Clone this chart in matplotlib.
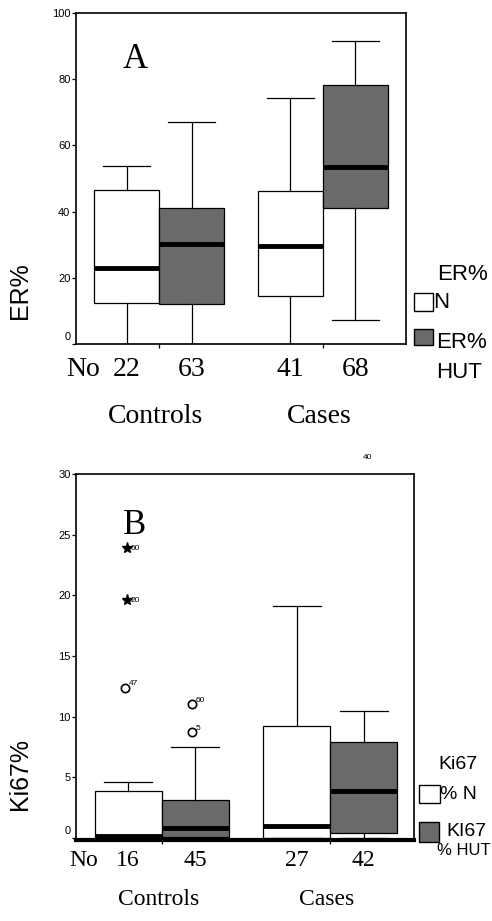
import matplotlib
matplotlib.use('Agg')
import matplotlib.pyplot as plt
from matplotlib.patches import Rectangle

# DATA
er_med = [23.0, 30.2, 29.6, 53.5]
er_q1 = [12.4, 12.1, 14.5, 41.0]
er_q3 = [46.5, 41.0, 46.2, 78.2]
er_lo = [0.0, 0.0, 0.0, 7.3]
er_hi = [53.8, 67.0, 74.3, 91.5]
er_n = ['22', '63', '41', '68']

ki_med = [0.15, 0.8, 1.0, 3.9]
ki_q1 = [0.0, 0.1, 0.0, 0.4]
ki_q3 = [3.9, 3.1, 9.2, 7.9]
ki_lo = [0.0, 0.0, 0.0, 0.0]
ki_hi = [4.6, 7.5, 19.1, 10.5]
ki_n = ['16', '45', '27', '42']

# outliers: box index, value, case label
ki_extreme_box = [0, 0]
ki_extreme_val = [23.9, 19.6]
ki_extreme_lab = ['60', '20']
ki_out_box = [0, 1, 1]
ki_out_val = [12.4, 11.0, 8.7]
ki_out_lab = ['47', '60', '5']

groups = ['Controls', 'Cases']
series_colors = ['white', '#6a6a6a']

SERIF = 'Liberation Serif'
SANS = 'Liberation Sans'
W, H = 492, 921
pos = [0.78, 1.78, 3.3, 4.3]

fig = plt.figure(figsize=(W / 100, H / 100), dpi=100)


def stats(med, q1, q3, lo, hi):
    return [dict(med=med[i], q1=q1[i], q3=q3[i], whislo=lo[i], whishi=hi[i], fliers=[])
            for i in range(len(med))]


def panel(rect, st, ns, ylim, yticks, xlim, letter, ylab, fs_num, num_dy, grp_dy, bottom_lw):
    ax = fig.add_axes(rect)
    b = ax.bxp(st, positions=pos, widths=1.0, patch_artist=True, showfliers=False,
               capwidths=0.72,
               boxprops=dict(linewidth=0.9, edgecolor='black'),
               medianprops=dict(color='black', linewidth=3.5, solid_capstyle='butt'),
               whiskerprops=dict(linewidth=0.9), capprops=dict(linewidth=0.9))
    for i, p in enumerate(b['boxes']):
        p.set_facecolor(series_colors[i % 2])
    ax.set_xlim(*xlim)
    ax.set_ylim(*ylim)
    ax.set_yticks(yticks)
    ax.set_yticklabels([''] + [str(t) for t in yticks[1:]], family=SANS, fontsize=8)
    ax.tick_params(axis='y', length=3, width=0.9, pad=1)
    ax.annotate('0', xy=(0, yticks[0]), xycoords=('axes fraction', 'data'),
                xytext=(-4, 5), textcoords='offset points', ha='right', va='center',
                family=SANS, fontsize=8)
    ax.set_xticks([(pos[0] + pos[1]) / 2, (pos[2] + pos[3]) / 2])
    ax.set_xticklabels([])
    ax.tick_params(axis='x', length=3, width=0.9, direction='out')
    for s in ax.spines.values():
        s.set_linewidth(1.2)
    ax.spines['bottom'].set_linewidth(bottom_lw)
    for i, n in enumerate(ns):
        ax.annotate(n, xy=(pos[i], 0), xycoords=('data', 'axes fraction'),
                    xytext=(0, num_dy), textcoords='offset points', ha='center', va='center',
                    family=SERIF, fontsize=fs_num)
    ax.annotate('No', xy=(0.11, 0), xycoords=('data', 'axes fraction'),
                xytext=(0, num_dy), textcoords='offset points', ha='center', va='center',
                family=SERIF, fontsize=fs_num)
    for g, name in enumerate(groups):
        gx = (pos[2 * g] + pos[2 * g + 1]) / 2 - 0.05
        ax.annotate(name, xy=(gx, 0), xycoords=('data', 'axes fraction'),
                    xytext=(0, grp_dy), textcoords='offset points', ha='center', va='center',
                    family=SERIF, fontsize=fs_num)
    ax.text(0.14, 0.86, letter, transform=ax.transAxes, family=SERIF, fontsize=25,
            ha='left', va='center')
    ax.set_ylabel(ylab, family=SANS, fontsize=18)
    return ax


def fx(x):
    return x / W


def fy(y):
    return 1 - y / H


# Panel A
axA = panel([fx(76), fy(344), fx(330), 331 / H], stats(er_med, er_q1, er_q3, er_lo, er_hi),
            er_n, (0, 100), [0, 20, 40, 60, 80, 100], (0, 5.08), 'A', 'ER%', 20, -18.5, -52.5, 1.2)
axA.yaxis.set_label_coords(-0.133, 0.16)

# Panel B
axB = panel([fx(76), fy(840), fx(338), 366 / H], stats(ki_med, ki_q1, ki_q3, ki_lo, ki_hi),
            ki_n, (-0.17, 30), [0, 5, 10, 15, 20, 25, 30], (0, 5.05), 'B', 'Ki67%', 17, -14.5, -43, 3.0)
axB.yaxis.set_label_coords(-0.13, 0.18)

for b, v, lab in zip(ki_extreme_box, ki_extreme_val, ki_extreme_lab):
    axB.plot(pos[b] - 0.02, v, marker='*', color='black', markersize=8, linestyle='none')
    axB.annotate(lab, xy=(pos[b] - 0.02, v), xytext=(3, 0), textcoords='offset points',
                 ha='left', va='center', family=SANS, fontsize=6)
for b, v, lab in zip(ki_out_box, ki_out_val, ki_out_lab):
    axB.plot(pos[b] - 0.05, v, marker='o', mfc='none', mec='black', mew=1.2,
             markersize=6, linestyle='none')
    axB.annotate(lab, xy=(pos[b] - 0.05, v), xytext=(3, 3), textcoords='offset points',
                 ha='left', va='center', family=SANS, fontsize=6)
axB.annotate('40', xy=(pos[3] + 0.05, 1.0), xycoords=('data', 'axes fraction'),
             xytext=(0, 12), textcoords='offset points', ha='center', va='center',
             family=SANS, fontsize=6, annotation_clip=False)


# legends
def legend_box(x0, y0, x1, y1, color):
    fig.patches.append(Rectangle((fx(x0), fy(y1)), fx(x1) - fx(x0), (y1 - y0) / H,
                                 transform=fig.transFigure, facecolor=color,
                                 edgecolor='black', linewidth=1.0))


def ltext(x, y, s, size, ha='left'):
    fig.text(fx(x), fy(y), s, ha=ha, va='center', family=SANS, fontsize=size)


ltext(488, 275, 'ER%', 16, ha='right')
legend_box(414, 293, 433, 311, series_colors[0])
ltext(433, 302, 'N', 16)
legend_box(414, 329, 433, 345, series_colors[1])
ltext(436, 343, 'ER%', 16)
ltext(436, 372, 'HUT', 16)

ltext(438, 764, 'Ki67', 14)
legend_box(419, 785, 440, 803, series_colors[0])
ltext(440, 794, '% N', 14)
legend_box(419, 822, 439, 842, series_colors[1])
ltext(446, 831, 'KI67', 14)
ltext(437, 850, '% HUT', 12)

fig.savefig('out.png', dpi=100)
